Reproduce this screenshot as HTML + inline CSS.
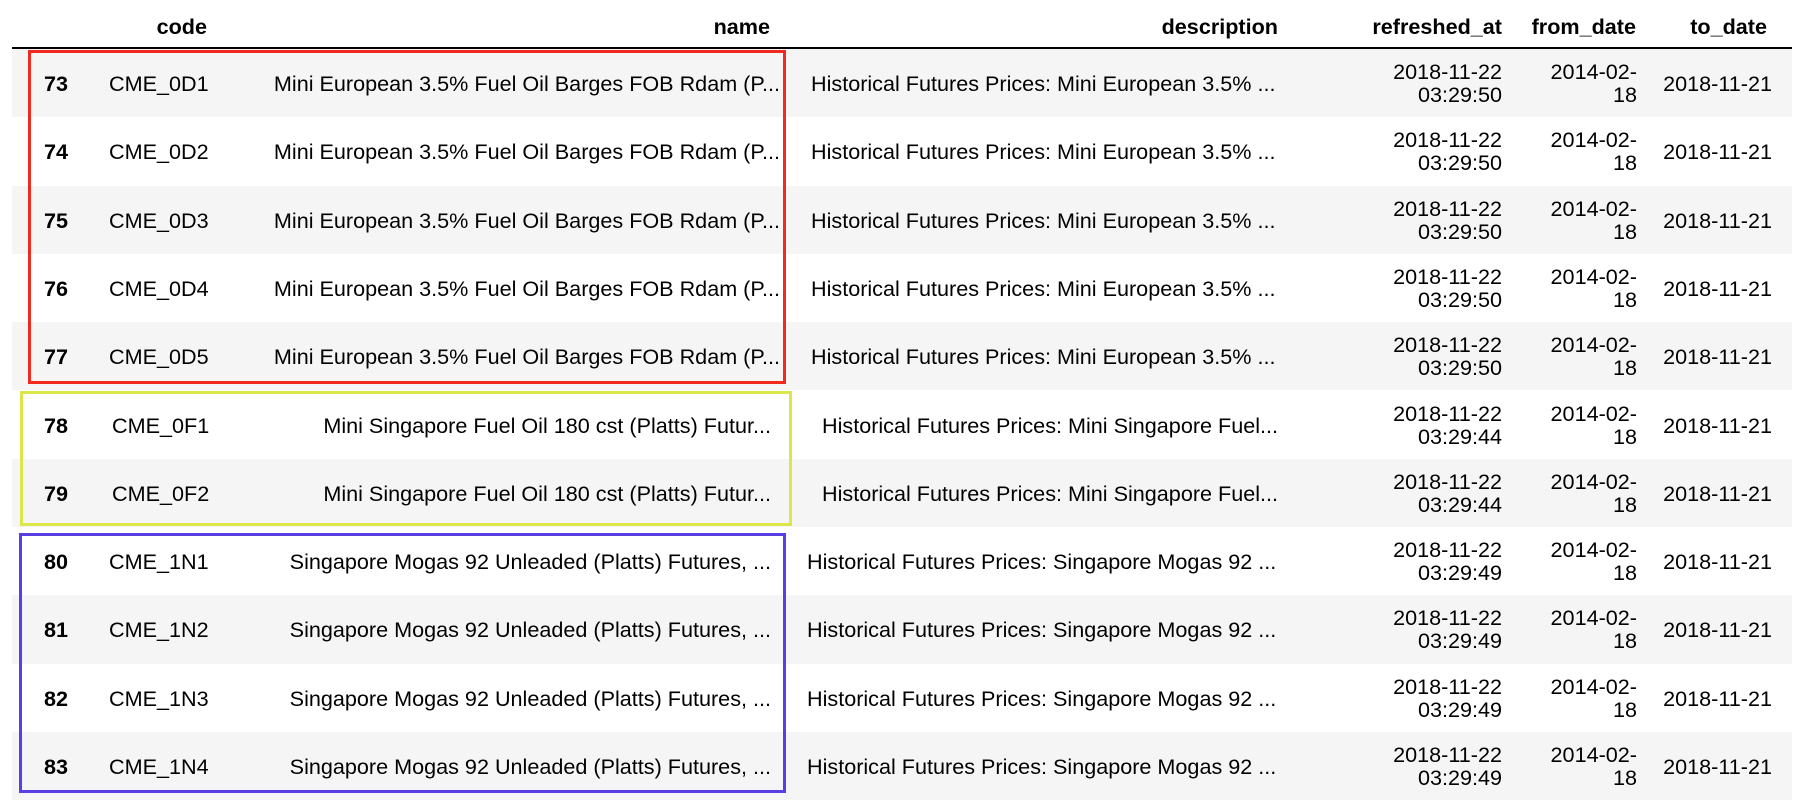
<!DOCTYPE html>
<html><head><meta charset="utf-8">
<style>
html,body{margin:0;padding:0;background:#fff;}
body{width:1800px;height:807px;position:relative;overflow:hidden;font-family:"Liberation Sans",Arial,sans-serif;font-size:21.6px;color:#000;}
.c{position:absolute;white-space:nowrap;line-height:23px;}
.r{text-align:right;}
.row{position:absolute;left:12px;width:1780px;height:68.3px;}
.hd{position:absolute;font-weight:bold;top:14px;white-space:nowrap;}
.box{position:absolute;box-sizing:border-box;border:3.5px solid;}
</style></head>
<body>
<div class="hd" style="right:1593px">code</div>
<div class="hd" style="right:1030px">name</div>
<div class="hd" style="right:522px">description</div>
<div class="hd" style="right:298px">refreshed_at</div>
<div class="hd" style="right:164px">from_date</div>
<div class="hd" style="right:33px">to_date</div>
<div style="position:absolute;left:12px;top:47px;width:1780px;height:2px;background:#000"></div>
<div id="rows"></div>
<div class="box" style="left:28px;top:50px;width:758px;height:334px;border-color:#f02a1f"></div>
<div class="box" style="left:20px;top:391px;width:772px;height:135px;border-color:#dbe64a"></div>
<div class="box" style="left:19px;top:533px;width:767px;height:260px;border-color:#5b3ee3"></div>
<script>
const idx=[73,74,75,76,77,78,79,80,81,82,83];
const codes=["CME_0D1","CME_0D2","CME_0D3","CME_0D4","CME_0D5","CME_0F1","CME_0F2","CME_1N1","CME_1N2","CME_1N3","CME_1N4"];
const nameE="Mini European 3.5% Fuel Oil Barges FOB Rdam (P...";
const nameS="Mini Singapore Fuel Oil 180 cst (Platts) Futur...";
const nameM="Singapore Mogas 92 Unleaded (Platts) Futures, ...";
const descE="Historical Futures Prices: Mini European 3.5% ...";
const descS="Historical Futures Prices: Mini Singapore Fuel...";
const descM="Historical Futures Prices: Singapore Mogas 92 ...";
const refTimes=["03:29:50","03:29:50","03:29:50","03:29:50","03:29:50","03:29:44","03:29:44","03:29:49","03:29:49","03:29:49","03:29:49"];
const container=document.getElementById('rows');
function cell(row,txt,style,bold){
  const d=document.createElement('div');
  d.className='c';
  d.style.cssText=style;
  if(bold)d.style.fontWeight='bold';
  d.innerHTML=txt;
  row.appendChild(d);
  return d;
}
for(let i=0;i<idx.length;i++){
  const g=i<5?0:(i<7?1:2);
  const row=document.createElement('div');
  row.className='row';
  
  
  row.style.top=(49+i*68.3)+'px';
  row.style.background=(i%2===0)?'#f5f5f5':'#fff';
  const mid='top:23px;';
  const codeL=[97,100,97][g], nameR=[1780-768,1780-759,1780-759][g], descL=[799,810,795][g];
  const nm=[nameE,nameS,nameM][g], ds=[descE,descS,descM][g];
  let c;
  c=cell(row,idx[i],mid+'right:1724px;text-align:right',true);
  
  
  c=cell(row,codes[i],mid+'left:'+codeL+'px');
  
  
  c=cell(row,nm,mid+'right:'+nameR+'px');
  
  
  c=cell(row,ds,mid+'left:'+descL+'px');
  
  
  c=cell(row,'2018-11-22<br>'+refTimes[i],'top:11px;right:290px;text-align:right');
  
  
  c=cell(row,'2014-02-<br>18','top:11px;right:155px;text-align:right');
  
  
  c=cell(row,'2018-11-21',mid+'right:20px');
  
  
  container.appendChild(row);
}
</script>
</body></html>
